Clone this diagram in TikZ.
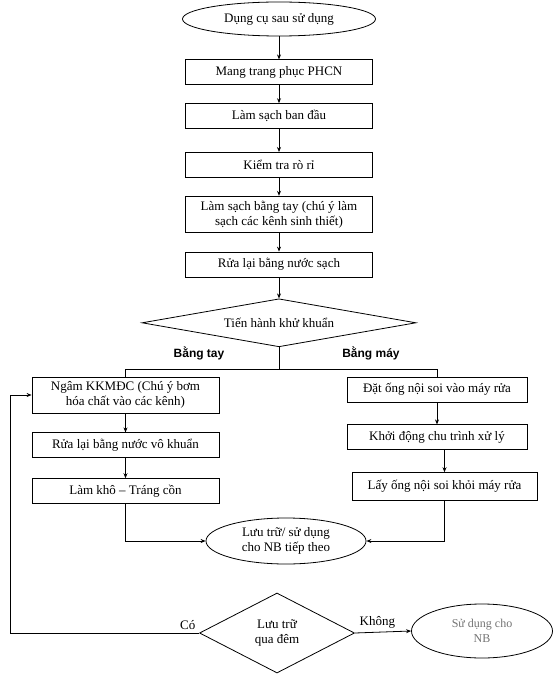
\documentclass[tikz,border=0pt]{standalone}
\usepackage{fontspec}
\setmainfont{Liberation Serif}
\newfontfamily\labelsans{Liberation Sans}
\usetikzlibrary{shapes.geometric, arrows.meta, positioning}
\tikzset{
    startstop/.style = {ellipse, minimum width=193pt, minimum height=34pt, inner sep=0pt, text centered, draw=black, align=center},
    process/.style = {rectangle, minimum width=187pt, minimum height=25pt, inner sep=2pt, text centered, draw=black, align=center},
    decision/.style = {diamond, inner sep=0pt, text centered, draw=black, align=center},
    branch/.style = {font=\labelsans\bfseries\fontsize{12}{14}\selectfont},
    arrow/.style = {-{Stealth[length=5pt, width=4pt]}}
}

\begin{document}
\begin{tikzpicture}[x=1pt, y=-1pt, line width=0.8pt, font=\fontsize{13}{15}\selectfont]
\useasboundingbox (0,0) rectangle (556,676);

\node (start) [startstop] at (279,19) {Dụng cụ sau sử dụng};
\node (wearPPE) [process, below=23pt of start] {Mang trang phục PHCN};
\node (preClean) [process, below=18pt of wearPPE] {Làm sạch ban đầu};
\node (leakTest) [process, below=23pt of preClean] {Kiểm tra rò rỉ};
\node (manualClean) [process, minimum height=36pt, below=18pt of leakTest] {Làm sạch bằng tay (chú ý làm\\sạch các kênh sinh thiết)};
\node (rinse) [process, below=19pt of manualClean] {Rửa lại bằng nước sạch};
\node (disinfect) [decision, aspect=5.7, minimum width=274pt, minimum height=48pt, below=21pt of rinse] {Tiến hành khử khuẩn};
\coordinate [below=22pt of disinfect] (split);

% By hand
\node (byHand) [branch] at (199,353) {Bằng tay};
\node (soak) [process, minimum height=36pt] at (125.5,395) {Ngâm KKMĐC (Chú ý bơm\\hóa chất vào các kênh)};
\node (rinseSterile) [process, below=19pt of soak] {Rửa lại bằng nước vô khuẩn};
\node (dry) [process, below=20pt of rinseSterile] {Làm khô – Tráng cồn};

% By machine
\node (byMachine) [branch] at (371,353) {Bằng máy};
\node (loadScope) [process, minimum width=180pt] at (437,389.5) {Đặt ống nội soi vào máy rửa};
\node (startCycle) [process, minimum width=180pt, below=22pt of loadScope] {Khởi động chu trình xử lý};
\node (unloadScope) [process, minimum width=185pt, minimum height=28pt, below=22pt of startCycle, xshift=7.5pt] {Lấy ống nội soi khỏi máy rửa};

\node (store) [startstop, minimum width=160pt, minimum height=46pt] at (286,541) {Lưu trữ/ sử dụng\\cho NB tiếp theo};
\node (overnight) [decision, aspect=1.94, minimum width=155pt, minimum height=80pt] at (277,633) {Lưu trữ\\qua đêm};
\node (useNext) [startstop, minimum width=141pt, minimum height=54pt] at (482,631) {};
\node (useNextText) [align=center, text=black!55, font=\fontsize{12}{15}\selectfont] at (useNext) {Sử dụng cho\\NB};

% Main flow
\draw [arrow] (start) -- (wearPPE);
\draw [arrow] (wearPPE) -- (preClean);
\draw [arrow] (preClean) -- (leakTest);
\draw [arrow] (leakTest) -- (manualClean);
\draw [arrow] (manualClean) -- (rinse);
\draw [arrow] (rinse) -- (disinfect);
\draw (disinfect.south) -- (split);
\draw (split) -| (soak.north);
\draw (split) -| (loadScope.north);

% Branches
\draw [arrow] (soak) -- (rinseSterile);
\draw [arrow] (rinseSterile) -- (dry);
\draw [arrow] (loadScope) -- (startCycle);
\draw [arrow] (unloadScope.north |- startCycle.south) -- (unloadScope.north);
\draw [arrow] (dry.south) |- (store.west);
\draw [arrow] (unloadScope.south) |- (store.east);

% Overnight storage
\draw [arrow] (overnight.west) node[above left] {Có} -- ++(-189,0) |- (soak.west);
\draw [arrow] (overnight.east) -- node[above, pos=0.4] {Không} (useNext.west);

\end{tikzpicture}
\end{document}
